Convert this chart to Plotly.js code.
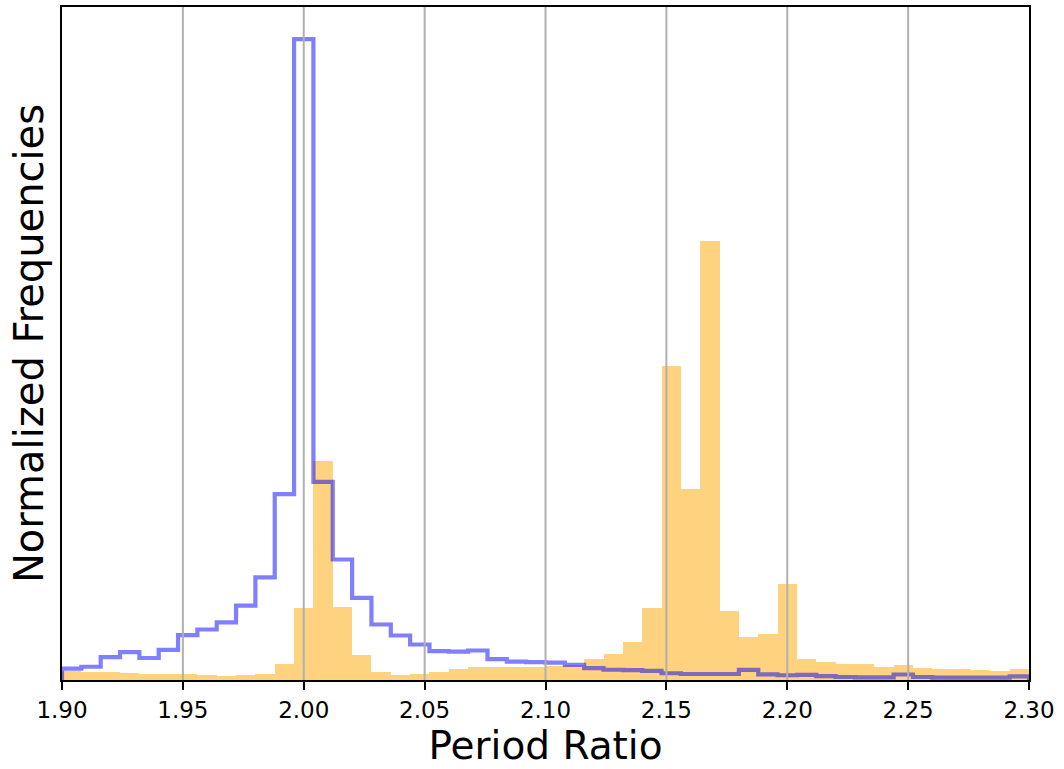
<!DOCTYPE html>
<html>
<head>
<meta charset="utf-8">
<script src="https://cdn.plot.ly/plotly-3.0.1.min.js"></script>
<style>html,body{margin:0;padding:0;background:#fff;}#chart{width:1064px;height:769px;}</style>
</head>
<body>
<div id="chart"></div>
<script>
// Histogram bins: 50 bins of width 0.008 from 1.90 to 2.30
const binStart = 1.90;
const binWidth = 0.008;
const binCount = 50;

// Blue step histogram (normalized frequencies, arbitrary units)
const blueValues = [
  1.76, 2.07, 3.56, 4.34, 3.43, 4.71, 6.99, 7.88, 9.0, 11.6,
  16.0, 29.0, 100, 30.9, 18.8, 12.8, 8.66, 6.94, 5.54, 4.5,
  4.42, 4.6, 3.25, 2.86, 2.8, 2.7, 2.37, 1.86, 1.6, 1.55,
  1.42, 1.05, 0.94, 0.94, 0.94, 1.58, 0.88, 0.74, 0.81, 0.62,
  0.47, 0.4, 0.4, 0.86, 0.47, 0.38, 0.38, 0.38, 0.38, 0.55
];

// Orange filled histogram (normalized frequencies, arbitrary units)
const orangeValues = [
  1.40, 1.30, 1.20, 1.04, 1.0, 0.94, 0.9, 0.78, 0.67, 0.78,
  1.0, 2.5, 11.3, 34.1, 11.4, 3.9, 1.2, 0.78, 0.94, 1.3,
  1.72, 1.98, 2.08, 2.0, 2.08, 2.2, 2.4, 3.2, 4.1, 5.98,
  11.2, 49.0, 29.8, 68.5, 10.8, 6.76, 7.18, 15.0, 3.3, 2.76,
  2.45, 2.45, 2.08, 2.34, 1.92, 1.72, 1.72, 1.56, 1.40, 1.66
];

const tickVals = [1.90, 1.95, 2.00, 2.05, 2.10, 2.15, 2.20, 2.25, 2.30];
const tickText = ["1.90", "1.95", "2.00", "2.05", "2.10", "2.15", "2.20", "2.25", "2.30"];

const edges = [];
for (let i = 0; i <= binCount; i++) edges.push(+(binStart + i * binWidth).toFixed(4));
const centers = edges.slice(0, binCount).map((e) => e + binWidth / 2);

// step outline
const stepX = [edges[0]];
const stepY = [0];
for (let i = 0; i < binCount; i++) { stepX.push(edges[i]); stepY.push(blueValues[i]); }
stepX.push(edges[binCount]); stepY.push(blueValues[binCount - 1]);
stepX.push(edges[binCount]); stepY.push(0);

const font = "DejaVu Sans, Liberation Sans, sans-serif";

const traces = [
  {
    type: "bar",
    x: centers,
    y: orangeValues,
    width: binWidth,
    marker: { color: "rgba(255,165,0,0.5)", line: { width: 0 } },
    hoverinfo: "x+y",
    showlegend: false
  },
  {
    type: "scatter",
    mode: "lines",
    x: stepX,
    y: stepY,
    line: { color: "rgba(0,0,255,0.5)", width: 4.2, shape: "hv" },
    showlegend: false
  }
];

const gridShapes = tickVals.slice(1, -1).map((v) => ({
  type: "line", xref: "x", yref: "paper", x0: v, x1: v, y0: 0, y1: 1,
  line: { color: "#b0b0b0", width: 2 }, layer: "above"
}));

const layout = {
  width: 1064,
  height: 769,
  margin: { l: 62, r: 35, t: 7, b: 89 },
  paper_bgcolor: "#ffffff",
  plot_bgcolor: "#ffffff",
  bargap: 0,
  showlegend: false,
  font: { family: font, color: "#000" },
  xaxis: {
    range: [1.90, 2.30],
    tickmode: "array",
    tickvals: tickVals,
    ticktext: tickText,
    ticks: "outside",
    ticklen: 8,
    tickwidth: 2,
    tickcolor: "#000",
    tickfont: { family: font, size: 23, color: "#000" },
    showgrid: false,
    zeroline: false,
    showline: true,
    linecolor: "#000",
    linewidth: 2,
    mirror: true,
    title: { text: "Period Ratio", font: { family: font, size: 39, color: "#000" }, standoff: 10 }
  },
  yaxis: {
    range: [0, 105],
    showticklabels: false,
    ticks: "",
    showgrid: false,
    zeroline: false,
    showline: true,
    linecolor: "#000",
    linewidth: 2,
    mirror: true,
    title: { text: "Normalized Frequencies", font: { family: font, size: 40, color: "#000" }, standoff: 4 }
  },
  shapes: gridShapes
};

Plotly.newPlot("chart", traces, layout, { displayModeBar: false, staticPlot: true });
</script>
</body>
</html>
